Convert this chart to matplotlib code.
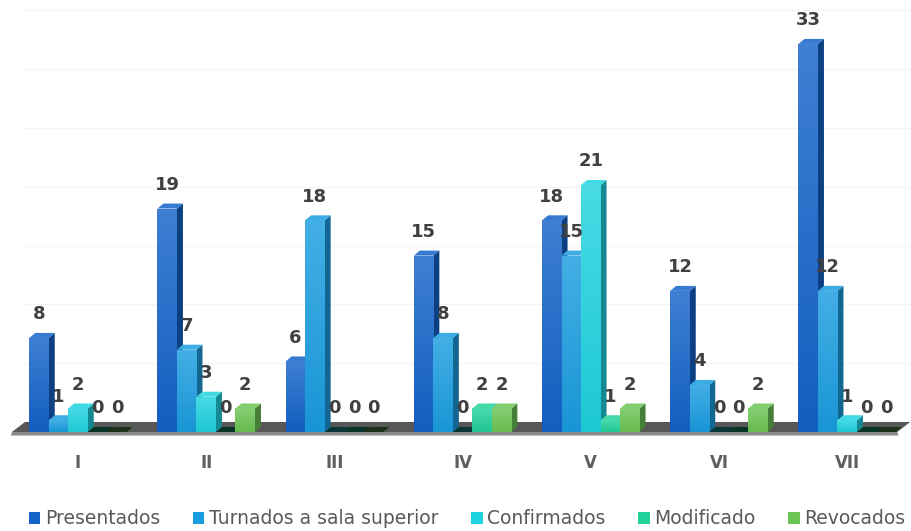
import matplotlib
matplotlib.use("Agg")
import matplotlib.pyplot as plt
import numpy as np
from matplotlib.patches import Polygon, Patch
from matplotlib.colors import to_rgb

categories = ["I", "II", "III", "IV", "V", "VI", "VII"]
series_names = ["Presentados", "Turnados a sala superior", "Confirmados", "Modificado", "Revocados"]
presentados = [8, 19, 6, 15, 18, 12, 33]
turnados = [1, 7, 18, 8, 15, 4, 12]
confirmados = [2, 3, 0, 0, 21, 0, 1]
modificado = [0, 0, 0, 2, 1, 0, 0]
revocados = [0, 2, 0, 2, 2, 2, 0]
series = [presentados, turnados, confirmados, modificado, revocados]
colors = ["#1463c9", "#1a9de0", "#1fd3df", "#22d19a", "#6cc454"]

W, H = 911, 531
fig = plt.figure(figsize=(W / 100, H / 100), dpi=100)
ax = fig.add_axes([0, 0, 1, 1])
px_x = 128.2   # pixels per category
px_y = 11.76   # pixels per unit
x0 = 78
y0 = 432
ax.set_xlim(-x0 / px_x, (W - x0) / px_x)
ax.set_ylim(-(H - y0) / px_y, y0 / px_y)
ax.axis("off")

def mix(c, t, amt):
    c = np.array(to_rgb(c)); t = np.array(to_rgb(t))
    return tuple(c + (t - c) * amt)

# depth offsets in data units
dx = 6 / px_x
dy = 5 / px_y
fdx = 13 / px_x
fdy = 10 / px_y

# faint back-wall gridlines
for v in range(5, 40, 5):
    ax.plot([-0.42, 6.5], [v + fdy, v + fdy], color="#f4f4f4", lw=0.8, zorder=0)

# floor
fl, fr = -0.515, 6.39
floor_top = Polygon([(fl, 0), (fr, 0), (fr + fdx, fdy), (fl + fdx, fdy)],
                    closed=True, facecolor="#575757", edgecolor="none", zorder=1)
ax.add_patch(floor_top)
floor_front = Polygon([(fl, 0), (fr, 0), (fr + 0.01, -0.3), (fl - 0.01, -0.3)],
                      closed=True, facecolor="#8a8a8a", edgecolor="none", zorder=1)
ax.add_patch(floor_front)

n = len(series)
w = 19.5 / px_x
x = np.arange(len(categories))
for i, (vals, col) in enumerate(zip(series, colors)):
    xs = x + (i - (n - 1) / 2) * w
    for xc, v in zip(xs, vals):
        xl, xr = xc - w / 2, xc + w / 2
        zz = 2 + i * 3
        if v > 0:
            side = Polygon([(xr, 0), (xr + dx, dy), (xr + dx, v + dy), (xr, v)],
                           closed=True, facecolor=mix(col, "black", 0.35), edgecolor="none", zorder=zz)
            top = Polygon([(xl, v), (xl + dx, v + dy), (xr + dx, v + dy), (xr, v)],
                          closed=True, facecolor=mix(col, "white", 0.15), edgecolor="none", zorder=zz)
            ax.add_patch(side); ax.add_patch(top)
            bars = ax.bar([xc], [v], width=w, color=col, zorder=zz + 1, linewidth=0)
            grad = np.linspace(0, 1, 64).reshape(-1, 1)
            c1 = np.array(mix(col, "white", 0.18)); c2 = np.array(mix(col, "black", 0.05))
            img = c2[None, None, :] * (1 - grad[..., None]) + c1[None, None, :] * grad[..., None]
            im = ax.imshow(img, extent=[xl, xr, 0, v], origin="lower", aspect="auto", zorder=zz + 1.5)
            im.set_clip_path(bars[0])
        else:
            top = Polygon([(xl, 0), (xl + dx, dy), (xr + dx, dy), (xr, 0)],
                          closed=True, facecolor=mix(col, "black", 0.75), edgecolor="none", zorder=zz)
            ax.add_patch(top)
        ax.annotate(str(v), (xc, v), xytext=(0, 17), textcoords="offset points",
                    ha="center", va="center", fontsize=13, fontweight="bold",
                    color="#404040", zorder=50)

for xi, lab in zip(x, categories):
    ax.text(xi, -(463 - y0) / px_y, lab, ha="center", va="center", fontsize=12,
            fontweight="bold", color="#5f5f5f")

handles = [Patch(facecolor=c, edgecolor="none") for c in colors]
fig.legend(handles, series_names, loc="center", bbox_to_anchor=(0.513, 1 - 519 / H),
           ncol=5, frameon=False, fontsize=13.5, handlelength=0.6, handleheight=0.6,
           handletextpad=0.25, columnspacing=1.75, labelcolor="#595959")

fig.savefig("out.png", dpi=100)
